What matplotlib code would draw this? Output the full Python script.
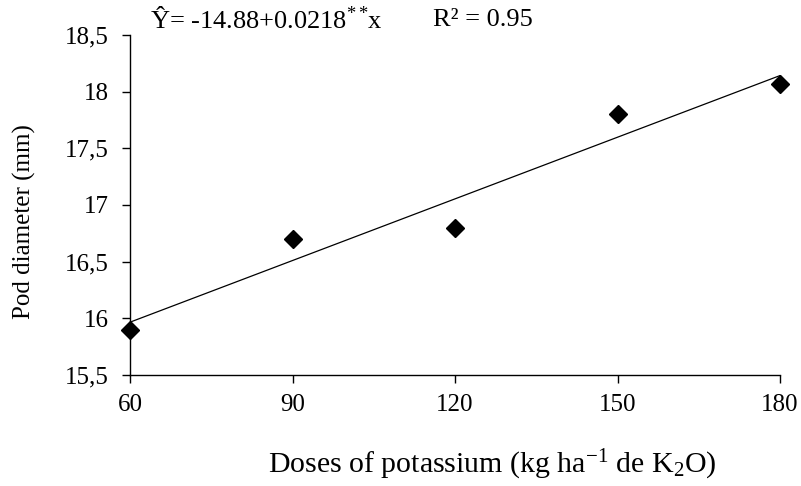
import numpy as np
import matplotlib
matplotlib.use("Agg")
import matplotlib.pyplot as plt

plt.rcParams['font.family'] = ['Liberation Serif', 'DejaVu Serif']
plt.rcParams['mathtext.fontset'] = 'custom'
plt.rcParams['mathtext.rm'] = 'Liberation Serif'
plt.rcParams['mathtext.it'] = 'Liberation Serif:italic'

# data
doses = [60, 90, 120, 150, 180]
diameter = [15.9, 16.7, 16.8, 17.8, 18.07]
yticks = [15.5, 16, 16.5, 17, 17.5, 18, 18.5]
ytick_labels = ['15,5', '16', '16,5', '17', '17,5', '18', '18,5']

fig = plt.figure(figsize=(8.01, 4.86), dpi=100)
ax = fig.add_axes([0.1623, 0.2284, 0.8115, 0.6996])

## linear fit drawn through the points
coef = np.polyfit(doses, diameter, 1)
xs = np.array([doses[0], doses[-1]])
ax.plot(xs, np.polyval(coef, xs), color='black', lw=0.9)
ax.plot(doses, diameter, 'D', color='black', markersize=9, clip_on=False)

ax.set_xlim(60, 180)
ax.set_ylim(15.5, 18.5)
ax.set_xticks(doses)
ax.set_yticks(yticks)
ax.set_yticklabels(ytick_labels)
ax.tick_params(labelsize=18, direction='out', length=6, width=1, colors='black')
ax.tick_params(axis='x', pad=8)
ax.tick_params(axis='y', pad=9)
ax.spines['top'].set_visible(False)
ax.spines['right'].set_visible(False)
ax.spines['left'].set_linewidth(1)
ax.spines['bottom'].set_linewidth(1)

ax.set_ylabel('Pod diameter (mm)', fontsize=18)
ax.yaxis.set_label_coords(-0.145, 0.45)
ax.set_xlabel(r'Doses of potassium (kg ha$\mathregular{^{-1}}$ de K$\mathregular{_2}$O)',
              fontsize=21.5)
ax.xaxis.set_label_coords(0.558, -0.215)

fig.text(150 / 801, 1 - 20 / 486, r'Ŷ= -14.88+0.0218$\mathregular{^{**}\!}$x', fontsize=19,
         va='center', ha='left')
fig.text(433 / 801, 1 - 20 / 486, 'R² = 0.95', fontsize=19, va='center', ha='left')

fig.savefig('out.png', dpi=100)
